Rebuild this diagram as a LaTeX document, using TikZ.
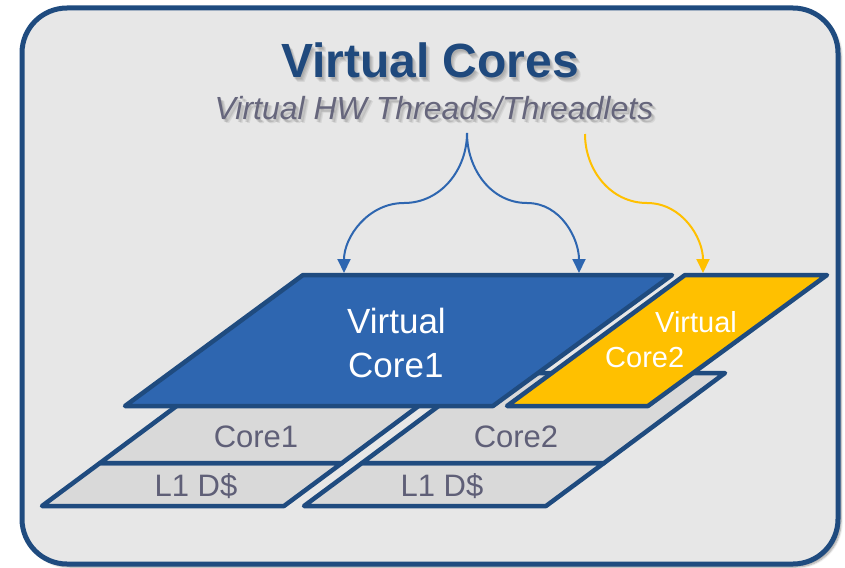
\documentclass[tikz,border=0pt]{standalone}
\usepackage{fontspec}
\setmainfont{Liberation Sans}
\usetikzlibrary{arrows.meta,shadows.blur}
\definecolor{frameblue}{HTML}{1F4B7F}
\definecolor{vblue}{HTML}{2E66B0}
\definecolor{vyellow}{HTML}{FFC000}
\definecolor{planegray}{HTML}{D9D9D9}
\definecolor{panelgray}{HTML}{E7E7E7}
\definecolor{labelgray}{HTML}{5F5F77}
\definecolor{subgray}{HTML}{66667C}
\definecolor{titleblue}{HTML}{1F497D}
\begin{document}
\begin{tikzpicture}[x=1pt,y=-1pt,
  plane/.style={draw=frameblue,line width=4.5pt,line join=round},
  flow/.style={line width=2pt,-{Triangle[width=13pt,length=14pt]}},
  lbl/.style={inner sep=0pt,anchor=base},
  shade/.style={lbl,text=black,opacity=0.07}]
\useasboundingbox (0,0) rectangle (845,567);

% outer panel
\draw[frameblue,line width=5pt,fill=panelgray,rounded corners=45pt,
      blur shadow={shadow xshift=3pt,shadow yshift=-3pt,shadow blur steps=6,shadow opacity=40}]
  (22,8) rectangle (838,564);

% soft shadow behind title and subtitle
\foreach \dx/\dy in {1/2,2/3,3/4,4/5} {
  \node[shade,font=\bfseries\fontsize{48}{56}\selectfont] at (430+\dx,78+\dy) {Virtual Cores};
  \node[shade,font=\itshape\fontsize{32}{38}\selectfont] at (434+\dx,119+\dy) {Virtual HW Threads/Threadlets};
}
\node[lbl,text=titleblue,font=\bfseries\fontsize{48}{56}\selectfont] (title) at (430,78) {Virtual Cores};
\node[lbl,text=subgray,font=\itshape\fontsize{32}{38}\selectfont] (subtitle) at (434,119) {Virtual HW Threads/Threadlets};

% L1 data cache layers
\draw[plane,fill=planegray] (100,463) -- (342,463) -- (284,506) -- (42,506) -- cycle;
\draw[plane,fill=planegray] (362,463) -- (604,463) -- (546,506) -- (304,506) -- cycle;
% physical core layers
\draw[plane,fill=planegray] (221,373) -- (463,373) -- (342,463) -- (100,463) -- cycle;
\draw[plane,fill=planegray] (483,373) -- (725,373) -- (604,463) -- (362,463) -- cycle;
% virtual cores
\draw[plane,fill=vblue] (303,275) -- (672,275) -- (493,406) -- (125,406) -- cycle;
\draw[plane,fill=vyellow] (685,275) -- (827,275) -- (648,406) -- (507,406) -- cycle;

% labels
\node[lbl,text=labelgray,font=\fontsize{31}{36}\selectfont] (c1) at (256,447) {Core1};
\node[lbl,text=labelgray,font=\fontsize{31}{36}\selectfont] (c2) at (516,447) {Core2};
\node[lbl,text=labelgray,font=\fontsize{31}{36}\selectfont] (l1a) at (196,496) {L1 D\$};
\node[lbl,text=labelgray,font=\fontsize{31}{36}\selectfont] (l1b) at (442,496) {L1 D\$};
\node[lbl,anchor=base west,text=white,font=\fontsize{35}{44}\selectfont] (vc1a) at (347,333) {Virtual};
\node[lbl,anchor=base west,text=white,font=\fontsize{35}{44}\selectfont] (vc1b) at (348,377) {Core1};
\node[lbl,anchor=base west,text=white,font=\fontsize{29}{35}\selectfont] (vc2a) at (655,332) {Virtual};
\node[lbl,anchor=base west,text=white,font=\fontsize{29}{35}\selectfont] (vc2b) at (605,367) {Core2};

% thread arrows
\coordinate (src) at (467,133);
\coordinate (srcy) at (585,134);
\coordinate (midl) at (404,203);
\coordinate (midr) at (527,203);
\coordinate (midy) at (647,203);
\coordinate (tipl) at (344,273);
\coordinate (tipr) at (579,273);
\coordinate (tipy) at (703,273);
\draw[flow,vblue] (src) to[out=-90,in=0] (midl) to[out=180,in=90] (tipl);
\draw[flow,vblue] (src) to[out=-90,in=180] (midr) to[out=0,in=90] (tipr);
\draw[flow,vyellow] (srcy) to[out=-90,in=180] (midy) to[out=0,in=90] (tipy);
\end{tikzpicture}
\end{document}
